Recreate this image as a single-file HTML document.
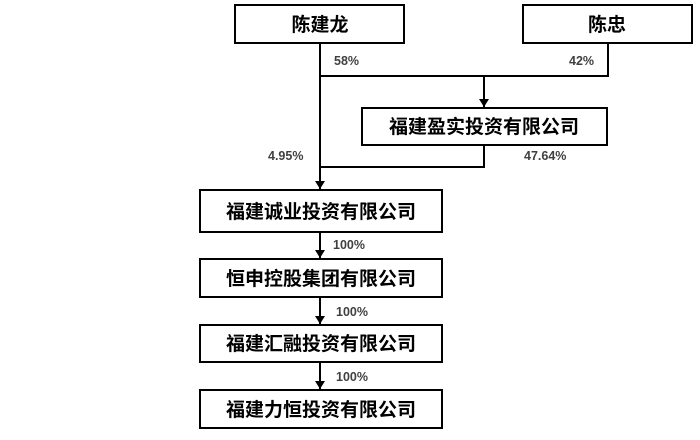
<!DOCTYPE html>
<html><head><meta charset="utf-8"><style>
body{margin:0;background:#fff;width:700px;height:435px;overflow:hidden}
svg text{font-family:"Liberation Sans","Noto Sans CJK SC",sans-serif}
.b{font-size:19px;font-weight:bold;fill:#000}
.p{font-size:12.5px;font-weight:bold;fill:#404040}
</style></head><body>
<svg width="700" height="435" xmlns="http://www.w3.org/2000/svg">
<defs><marker id="a" markerWidth="10" markerHeight="10" refX="8" refY="5" orient="auto" markerUnits="userSpaceOnUse"><path d="M0,0 L8,5 L0,10 z" fill="#000"/></marker></defs>
<g fill="#fff" stroke="#000" stroke-width="2">
<rect x="235" y="5" width="169" height="38"/>
<rect x="523" y="5" width="169" height="38"/>
<rect x="362" y="108" width="245" height="37"/>
<rect x="200" y="190" width="242" height="42"/>
<rect x="200" y="259" width="242" height="38"/>
<rect x="200" y="325" width="242" height="37"/>
<rect x="200" y="390" width="242" height="38"/>
</g>
<g stroke="#000" stroke-width="2" fill="none">
<path d="M320,43 V189" marker-end="url(#a)"/>
<path d="M320,76 H608 V43"/>
<path d="M484,76 V107" marker-end="url(#a)"/>
<path d="M484,145 V167 H320"/>
<path d="M320,232 V258" marker-end="url(#a)"/>
<path d="M320,297 V324" marker-end="url(#a)"/>
<path d="M320,362 V389" marker-end="url(#a)"/>
</g>
<g class="b" text-anchor="middle">
<text x="320" y="31">陈建龙</text>
<text x="607" y="31">陈忠</text>
<text x="484" y="133">福建盈实投资有限公司</text>
<text x="321" y="218">福建诚业投资有限公司</text>
<text x="321" y="285">恒申控股集团有限公司</text>
<text x="321" y="350">福建汇融投资有限公司</text>
<text x="321" y="416">福建力恒投资有限公司</text>
</g>
<g class="p">
<text x="334" y="65">58%</text>
<text x="569" y="65">42%</text>
<text x="268" y="160">4.95%</text>
<text x="524" y="160">47.64%</text>
<text x="333" y="249">100%</text>
<text x="336" y="316">100%</text>
<text x="336" y="381">100%</text>
</g>
</svg>
</body></html>
